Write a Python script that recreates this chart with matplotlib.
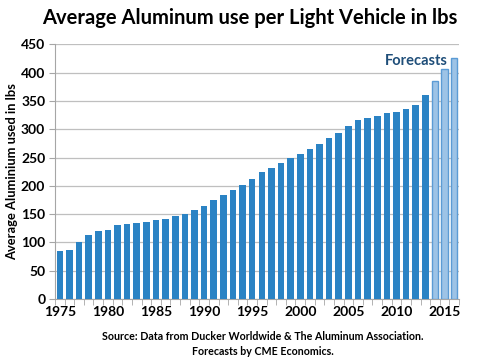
import matplotlib
matplotlib.use("Agg")
import matplotlib.pyplot as plt
import numpy as np

plt.rcParams['font.family'] = ['Lato', 'DejaVu Sans']

years = list(range(1975, 2017))
actual = [85, 87, 100, 114, 120, 122, 130, 132, 135, 137,
          139, 141, 146, 151, 158, 165, 175, 183, 192, 202,
          212, 224, 231, 241, 250, 257, 265, 274, 285, 294,
          305, 316, 320, 324, 329, 330, 335, 343, 360]
forecast = [386, 406, 425]

dark_blue = "#2B83C4"
light_blue = "#9DC3E6"
light_edge = "#5B9BD5"

fig = plt.figure(figsize=(5, 3.63), dpi=100)
ax = fig.add_axes([0.11, 0.176, 0.808, 0.702])

x_act = np.arange(len(actual))
x_fc = np.arange(len(actual), len(actual) + len(forecast))
ax.bar(x_act, actual, width=0.68, color=dark_blue, zorder=3)
ax.bar(x_fc, forecast, width=0.68, color=light_blue, edgecolor=light_edge,
       linewidth=1, zorder=3)

ax.set_xlim(-0.5, len(years) - 0.5)
ax.set_ylim(0, 450)
ax.set_yticks(range(0, 451, 50))
ax.yaxis.grid(True, color="#BFBFBF", linewidth=0.9, zorder=0)

# labels every five years, ticks on category boundaries
label_pos = [i for i, y in enumerate(years) if y % 5 == 0]
ax.set_xticks(label_pos)
ax.set_xticklabels([str(years[i]) for i in label_pos], fontweight="bold", fontsize=10)
ax.tick_params(axis="x", length=0, pad=5)
ax.set_xticks(np.arange(-0.5, len(years), 1), minor=True)
ax.tick_params(axis="x", which="minor", length=4, color="#A6A6A6", direction="out")
ax.tick_params(axis="y", length=4, color="#A6A6A6", labelsize=10, pad=3)
for lab in ax.get_yticklabels():
    lab.set_fontweight("bold")

for side in ["top", "right"]:
    ax.spines[side].set_visible(False)
ax.spines["left"].set_color("#A6A6A6")
ax.spines["bottom"].set_color("#A6A6A6")

ax.set_ylabel("Average Aluminium used in lbs", fontweight="bold", fontsize=9.3, labelpad=2)

ax.text(len(actual) - 1.9, 420, "Forecasts", color="#1F4E79", fontweight="bold",
        fontsize=10.5, ha="center", va="center", zorder=4)

fig.text(0.5, 0.95, "Average Aluminum use per Light Vehicle in lbs",
         fontweight="bold", fontsize=14.5, ha="center", va="center")
fig.text(0.526, 0.072, "Source: Data from Ducker Worldwide & The Aluminum Association.",
         fontweight="bold", fontsize=7.7, ha="center", va="center")
fig.text(0.526, 0.032, "Forecasts by CME Economics.",
         fontweight="bold", fontsize=7.7, ha="center", va="center")

fig.savefig("out.png", dpi=100)
